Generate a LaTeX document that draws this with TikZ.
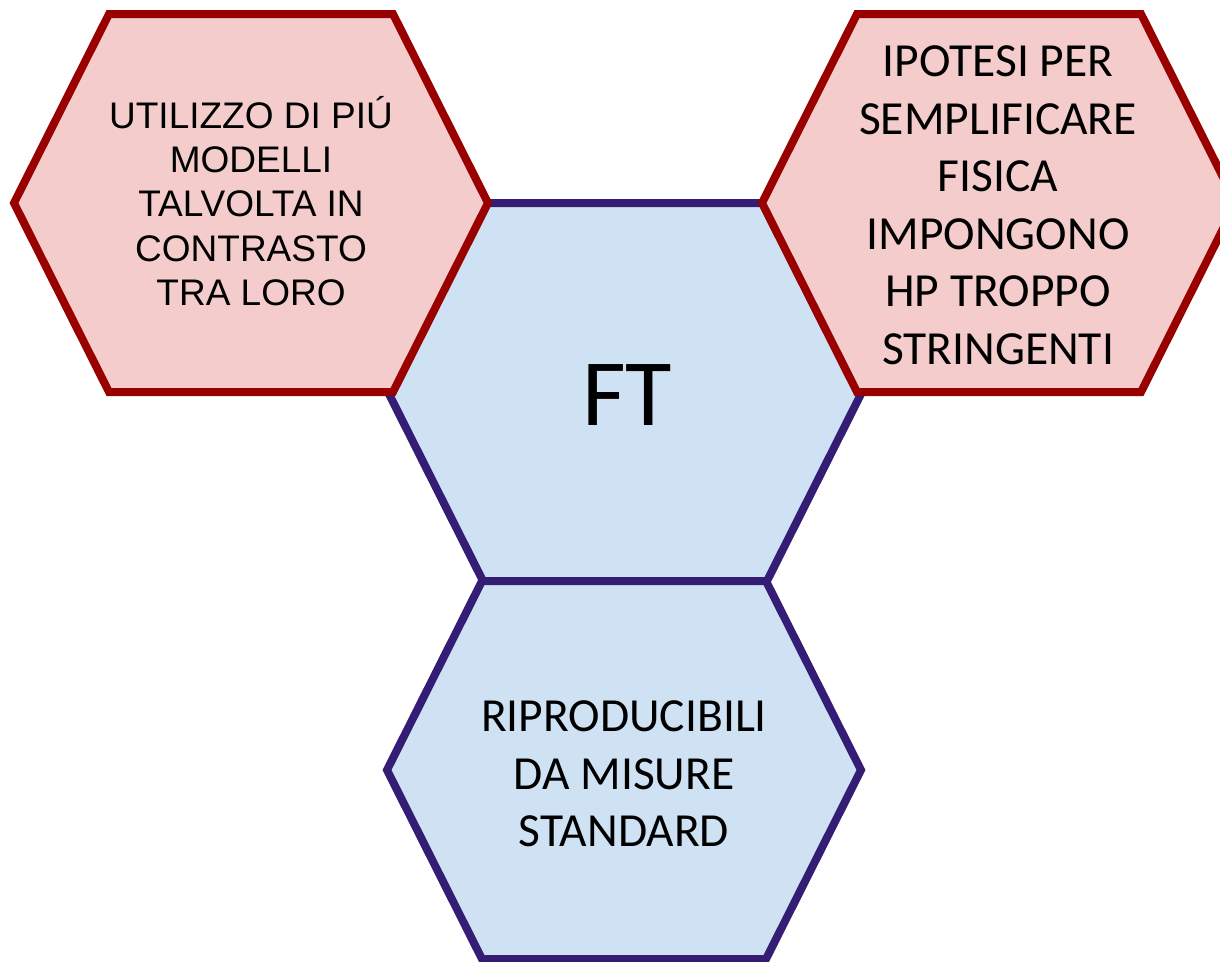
\documentclass[tikz,border=0pt]{standalone}
\usepackage{fontspec}
\setmainfont{Carlito}
\newfontfamily\arialf{Liberation Sans}
\definecolor{redfill}{HTML}{F4CCCC}
\definecolor{redline}{HTML}{990000}
\definecolor{bluefill}{HTML}{CFE2F3}
\definecolor{blueline}{HTML}{351C75}
\begin{document}
\begin{tikzpicture}[x=1pt,y=-1pt,
  hexred/.style={fill=redfill,draw=redline,line width=8pt,line join=miter},
  hexblue/.style={fill=bluefill,draw=blueline,line width=8pt,line join=miter},
  arialtxt/.style={font=\arialf\fontsize{37}{44.4}\selectfont,align=center,inner sep=0pt},
  calitxt/.style={font=\fontsize{47.5}{57.5}\selectfont,align=center,inner sep=0pt},
  bigtxt/.style={font=\fontsize{95}{114}\selectfont,inner sep=0pt}]
\useasboundingbox (0,0) rectangle (1220,961);
\clip (0,0) rectangle (1220,961);
% hexagons
\draw[hexblue,shift={(625,392)}] (-237,0) -- (-142,-189) -- (142,-189) -- (237,0) -- (142,189) -- (-142,189) -- cycle;
\draw[hexblue,shift={(624,770)}] (-237,0) -- (-142,-189) -- (142,-189) -- (237,0) -- (142,189) -- (-142,189) -- cycle;
\draw[hexred,shift={(251,203)}] (-237,0) -- (-142,-189) -- (142,-189) -- (237,0) -- (142,189) -- (-142,189) -- cycle;
\draw[hexred,shift={(999,203)}] (-237,0) -- (-142,-189) -- (142,-189) -- (237,0) -- (142,189) -- (-142,189) -- cycle;
% texts
\node[arialtxt] (util) at (251,201) {UTILIZZO DI PIÚ\\MODELLI\\TALVOLTA IN\\CONTRASTO\\TRA LORO};
\node[calitxt] (ipot) at (998,205) {IPOTESI PER\\SEMPLIFICARE\\FISICA\\IMPONGONO\\HP TROPPO\\STRINGENTI};
\node[bigtxt] (ft) at (627,395) {FT};
\node[calitxt] (ripr) at (624,774) {RIPRODUCIBILI\\DA MISURE\\STANDARD};
\end{tikzpicture}
\end{document}
